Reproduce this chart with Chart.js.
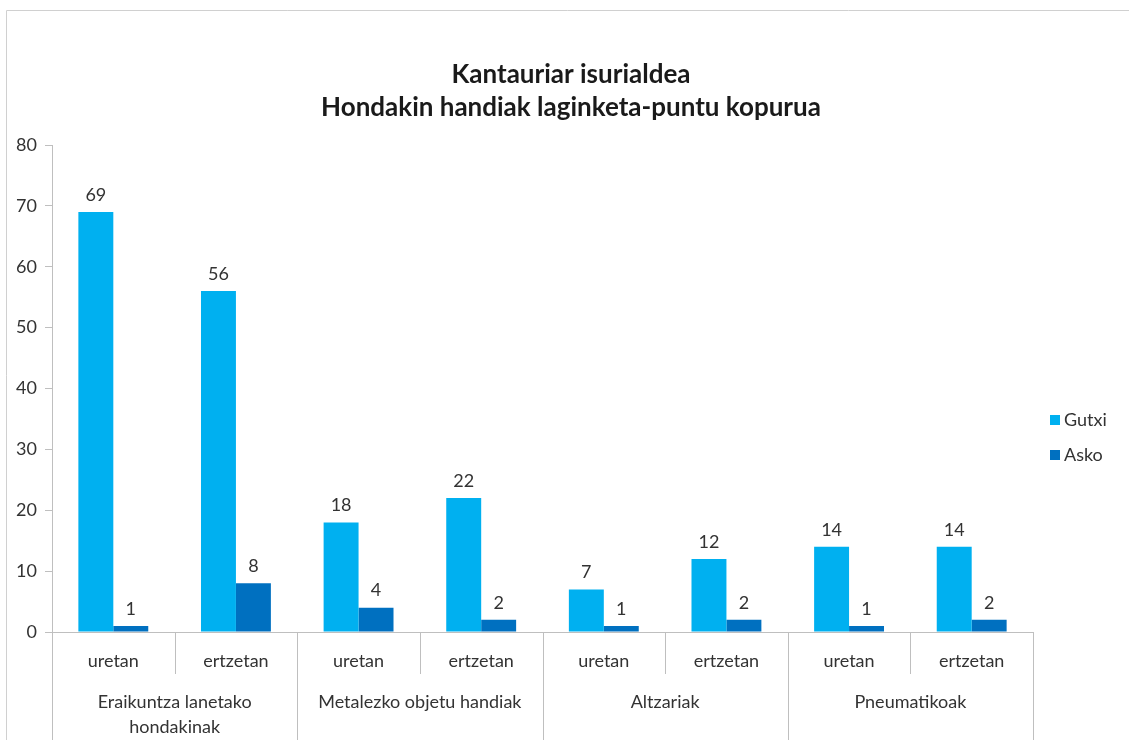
<!DOCTYPE html>
<html>
  <head>
    <script src="https://cdn.jsdelivr.net/npm/chart.js@4"></script>
    <style>
      body { margin: 0; background: #fff; }
    </style>
  </head>
  <body>
    <canvas id="canvas" width="1129" height="740"></canvas>
    <script>
      const subLabels = ['uretan', 'ertzetan', 'uretan', 'ertzetan', 'uretan', 'ertzetan', 'uretan', 'ertzetan'];
      const groupLabels = [['Eraikuntza lanetako', 'hondakinak'], ['Metalezko objetu handiak'], ['Altzariak'], ['Pneumatikoak']];
      const gutxi = [69, 56, 18, 22, 7, 12, 14, 14];
      const asko = [1, 8, 4, 2, 1, 2, 1, 2];
      const titleLines = ['Kantauriar isurialdea', 'Hondakin handiak laginketa-puntu kopurua'];

      const FONT = 'Lato, "Open Sans", sans-serif';
      const TEXT = '#333333';
      const LINE = '#BFBFBF';

      // frame, title, value labels, two-level x axis and legend
      const extras = {
        id: 'extras',
        beforeDraw(chart) {
          const ctx = chart.ctx;
          ctx.save();
          ctx.strokeStyle = '#D0D0D0';
          ctx.lineWidth = 1;
          ctx.beginPath();
          ctx.moveTo(6.5, 740);
          ctx.lineTo(6.5, 10.5);
          ctx.lineTo(1129, 10.5);
          ctx.stroke();
          ctx.restore();
        },
        afterDraw(chart) {
          const ctx = chart.ctx;
          const area = chart.chartArea;
          const x = chart.scales.x;
          ctx.save();

          // title
          ctx.font = 'bold 26px ' + FONT;
          ctx.fillStyle = '#1a1a1a';
          ctx.textAlign = 'center';
          ctx.textBaseline = 'middle';
          titleLines.forEach((t, k) => ctx.fillText(t, 571, 75 + k * 33));

          // value labels
          ctx.font = '18px ' + FONT;
          ctx.fillStyle = TEXT;
          ctx.textBaseline = 'bottom';
          chart.data.datasets.forEach((ds, di) => {
            chart.getDatasetMeta(di).data.forEach((bar, i) => {
              ctx.fillText(String(ds.data[i]), bar.x, bar.y - 8);
            });
          });

          // category separators
          const w = (x.right - x.left) / subLabels.length;
          ctx.strokeStyle = LINE;
          ctx.lineWidth = 1;
          for (let i = 0; i <= subLabels.length; i++) {
            const px = Math.round(x.left + i * w) + 0.5;
            ctx.beginPath();
            ctx.moveTo(px, area.bottom);
            ctx.lineTo(px, i % 2 === 0 ? 740 : area.bottom + 42);
            ctx.stroke();
          }

          // sub labels
          ctx.textBaseline = 'middle';
          subLabels.forEach((lab, i) => {
            ctx.fillText(lab, x.getPixelForValue(i), area.bottom + 29);
          });

          // group labels
          groupLabels.forEach((lines, g) => {
            const cx = x.left + (g * 2 + 1) * w;
            lines.forEach((ln, k) => {
              ctx.fillText(ln, cx, area.bottom + 70 + k * 25);
            });
          });

          // legend
          ctx.textAlign = 'left';
          chart.data.datasets.forEach((ds, di) => {
            const y = 420 + di * 35;
            ctx.fillStyle = ds.backgroundColor;
            ctx.fillRect(1050, y - 5, 10, 10);
            ctx.fillStyle = TEXT;
            ctx.fillText(ds.label, 1064, y);
          });
          ctx.restore();
        },
      };

      new Chart(document.getElementById('canvas').getContext('2d'), {
        type: 'bar',
        data: {
          labels: subLabels,
          datasets: [
            { label: 'Gutxi', data: gutxi, backgroundColor: '#00B0F0' },
            { label: 'Asko', data: asko, backgroundColor: '#0070C0' },
          ],
        },
        options: {
          responsive: false,
          animation: false,
          layout: { padding: { left: 0, right: 96, top: 145, bottom: 0 } },
          datasets: { bar: { categoryPercentage: 0.57, barPercentage: 1.0 } },
          plugins: {
            legend: { display: false },
            tooltip: { enabled: false },
            title: { display: false },
          },
          scales: {
            x: {
              grid: { display: false },
              border: { display: true, color: LINE },
              ticks: { display: false },
              afterFit: (s) => { s.height = 108; },
            },
            y: {
              min: 0,
              max: 80,
              ticks: { stepSize: 10, color: TEXT, font: { family: FONT, size: 18 }, padding: 8 },
              grid: { drawOnChartArea: false, drawTicks: true, tickLength: 7, color: LINE },
              border: { display: true, color: LINE },
              afterFit: (s) => { s.width = 52; },
            },
          },
        },
        plugins: [extras],
      });
    </script>
  </body>
</html>
